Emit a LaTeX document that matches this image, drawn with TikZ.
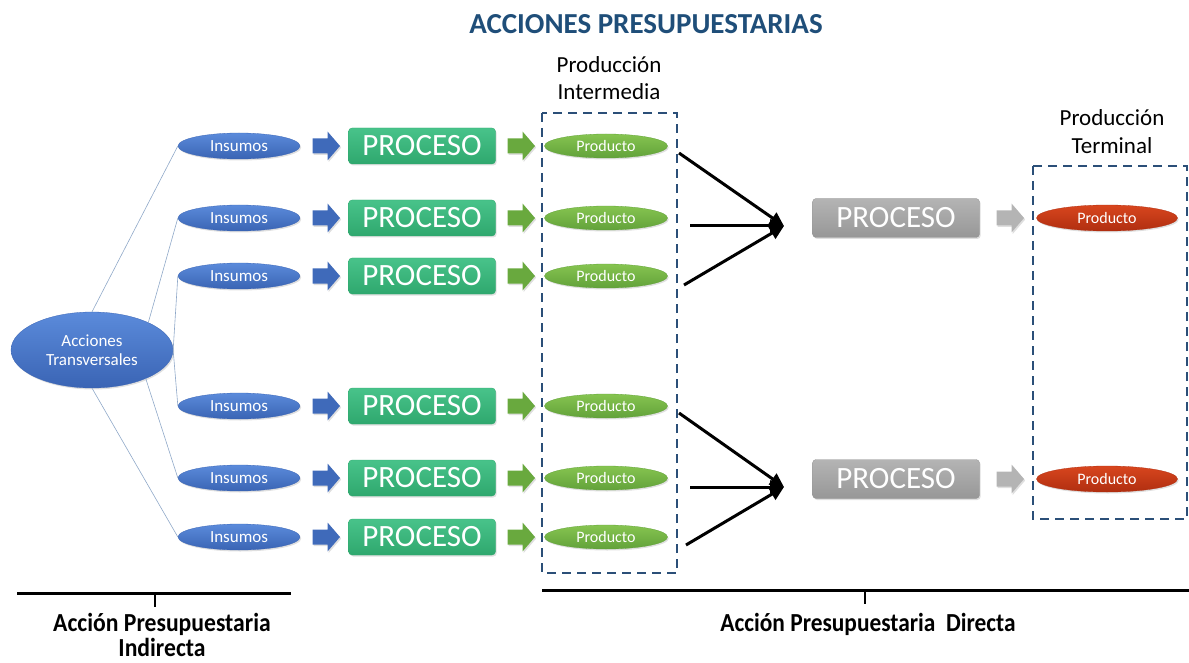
\documentclass[tikz,border=0pt]{standalone}
\usepackage{fontspec}
\setmainfont{Carlito}
\usetikzlibrary{shapes.geometric,shadows,arrows.meta,calc}
\definecolor{titleblue}{HTML}{1F4E79}
\definecolor{dashblue}{HTML}{2B4F78}
\definecolor{blueA}{HTML}{5B8BDB}
\definecolor{blueB}{HTML}{3A64B4}
\definecolor{procA}{HTML}{48C38A}
\definecolor{procB}{HTML}{2FA86E}
\definecolor{prodA}{HTML}{86C450}
\definecolor{prodB}{HTML}{62A23A}
\definecolor{grayA}{HTML}{B4B4B4}
\definecolor{grayB}{HTML}{979797}
\definecolor{redA}{HTML}{D8461E}
\definecolor{redB}{HTML}{B02E10}
\definecolor{linkc}{HTML}{8FA8C8}
\begin{document}
\begin{tikzpicture}[x=1pt,y=-1pt,
  shad/.style={drop shadow={opacity=0.25,shadow xshift=1.2pt,shadow yshift=-1.5pt}},
  insumo/.style={ellipse,minimum width=122pt,minimum height=26pt,inner sep=0pt,
    top color=blueA,bottom color=blueB,draw=blueB,line width=0.3pt,text=white,
    font=\fontsize{17}{18}\selectfont,shad},
  transv/.style={insumo,minimum width=162pt,minimum height=76pt,align=center,
    font=\fontsize{17}{19.5}\selectfont},
  proc/.style={rectangle,rounded corners=3.5pt,minimum width=147pt,minimum height=36pt,inner sep=0pt,
    top color=procA,bottom color=procB,draw=procB,line width=0.3pt,text=white,
    font=\fontsize{31}{32}\selectfont,shad},
  gproc/.style={proc,minimum width=167pt,minimum height=39pt,top color=grayA,bottom color=grayB,draw=grayB},
  prod/.style={ellipse,minimum width=123pt,minimum height=24pt,inner sep=0pt,
    top color=prodA,bottom color=prodB,draw=prodB,line width=0.3pt,text=white,
    font=\fontsize{16}{17}\selectfont,shad},
  rprod/.style={prod,minimum width=141pt,minimum height=26pt,top color=redA,bottom color=redB,draw=redB},
  blockarr/.pic={\fill[pic actions,shad] (-13.5,-7.5) -- (1.5,-7.5) -- (1.5,-14.5) -- (14,0)
      -- (1.5,14.5) -- (1.5,7.5) -- (-13.5,7.5) -- cycle;},
  dbox/.style={draw=dashblue,line width=2.8pt,dash pattern=on 9pt off 6pt},
  conn/.style={draw=linkc,line width=0.6pt},
  bigarrow/.style={line width=3pt,-{Triangle[length=14pt,width=13pt]}},
  lab/.style={align=center,font=\fontsize{23}{27.5}\selectfont},
  blab/.style={align=center,inner sep=0pt,font=\fontsize{26}{25.5}\selectfont\bfseries}
]
\useasboundingbox (0,0) rectangle (1189,663);

\node[font=\fontsize{29}{30}\selectfont\bfseries,text=titleblue] (title) at (646,24) {ACCIONES PRESUPUESTARIAS};

\node[transv] (at) at (92,350) {Acciones\\Transversales};

\foreach \i/\y in {1/146,2/218,3/276,4/406,5/478,6/537}{
  \node[insumo] (ins\i) at (239,\y) {Insumos};
  \pic[fill=blueB!85!blueA] (ba\i) at (326,\y) {blockarr};
  \node[proc] (pr\i) at (422,\y) {PROCESO};
  \pic[fill=prodB!80!prodA] (ga\i) at (521,\y) {blockarr};
  \node[prod] (pd\i) at (606,\y) {Producto};
}

\draw[conn] (at.north) -- (ins1.west);
\draw[conn] (at.26) -- (ins2.west);
\draw[conn] (at.east) -- (ins3.west);
\draw[conn] (at.east) -- (ins4.west);
\draw[conn] (at.-28) -- (ins5.west);
\draw[conn] (at.south) -- (ins6.west);

\draw[dbox] (542,113) rectangle (677,573);
\draw[dbox] (1033,166) rectangle (1187,519);
\node[lab] (plint) at (609,78) {Producción\\Intermedia};
\node[lab] (plter) at (1112,131.5) {Producción\\Terminal};

\node[gproc] (gp1) at (896,218) {PROCESO};
\node[gproc] (gp2) at (896,479) {PROCESO};
\pic[fill=grayA] (gra1) at (1010,218) {blockarr};
\pic[fill=grayA] (gra2) at (1010,479) {blockarr};
\node[rprod] (rp1) at (1107,218) {Producto};
\node[rprod] (rp2) at (1107,479) {Producto};

\coordinate (c1) at (784,226);
\coordinate (c2) at (784,487);
\coordinate (s1) at (679,153);
\coordinate (s2) at (690,226);
\coordinate (s3) at (684,285);
\coordinate (s4) at (679,413);
\coordinate (s5) at (690,487);
\coordinate (s6) at (686,545);
\foreach \s/\c in {s1/c1,s2/c1,s3/c1,s4/c2,s5/c2,s6/c2}{
  \draw[bigarrow] (\s) -- (\c);
}

\coordinate (bl1) at (17,593);
\coordinate (bl2) at (291,593);
\coordinate (br1) at (542,590);
\coordinate (br2) at (1189,590);
\draw[line width=3pt] (bl1) -- (bl2);
\draw[line width=1.4pt] (155,593) -- (155,607);
\draw[line width=3pt] (br1) -- (br2);
\draw[line width=1.4pt] (865,590) -- (865,604);

\node[blab] (lind) at (162,635) {\scalebox{0.91}[1]{Acción Presupuestaria}\\\scalebox{0.91}[1]{Indirecta}};
\node[blab] (ldir) at (868,624) {\scalebox{0.9}[1]{Acción Presupuestaria\ \ Directa}};
\end{tikzpicture}
\end{document}
